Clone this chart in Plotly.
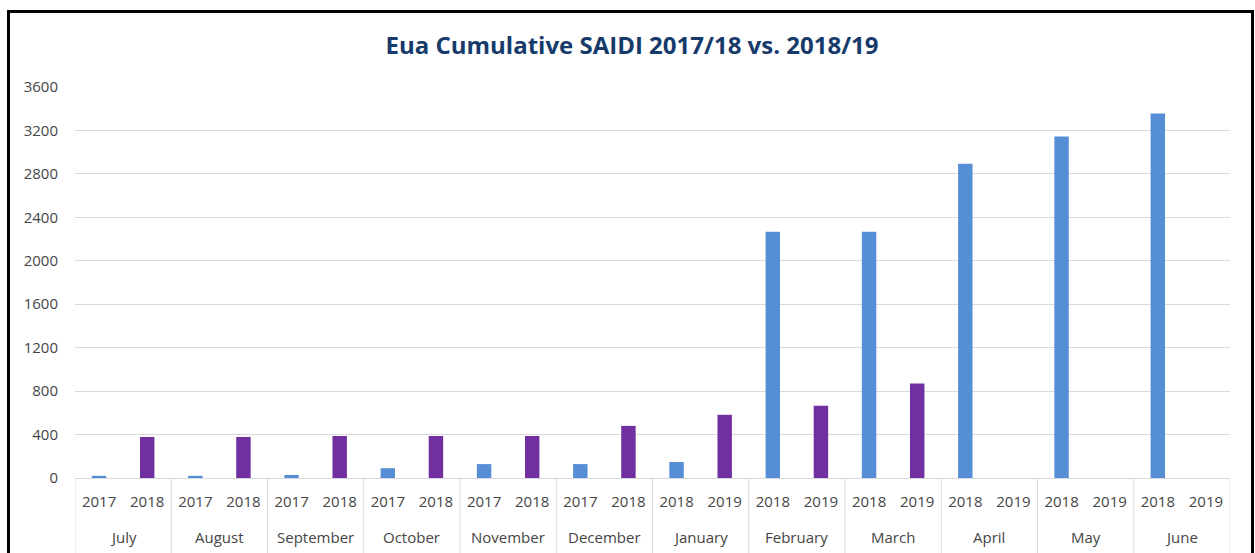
import plotly.graph_objects as go

# Data
months = ['July', 'August', 'September', 'October', 'November', 'December',
          'January', 'February', 'March', 'April', 'May', 'June']
years_1 = ['2017', '2017', '2017', '2017', '2017', '2017',
           '2018', '2018', '2018', '2018', '2018', '2018']
years_2 = ['2018', '2018', '2018', '2018', '2018', '2018',
           '2019', '2019', '2019', '2019', '2019', '2019']
saidi_1 = [20, 20, 28, 90, 128, 128, 147, 2268, 2268, 2893, 3145, 3355]
saidi_2 = [378, 378, 387, 387, 387, 480, 582, 665, 870, None, None, None]

BLUE = '#558ED5'
PURPLE = '#7030A0'
FONT = 'Open Sans'
TXT = '#454545'
GRID = '#D9D9D9'

# one category per (month, year) slot, in chart order
cats_1 = [f'{m} {y}' for m, y in zip(months, years_1)]
cats_2 = [f'{m} {y}' for m, y in zip(months, years_2)]
cat_order, tick_text = [], []
for c1, c2, y1, y2 in zip(cats_1, cats_2, years_1, years_2):
    cat_order += [c1, c2]
    tick_text += [y1, y2]

fig = go.Figure()

fig.add_trace(go.Bar(
    x=cats_1, y=saidi_1, name='2017/18',
    marker=dict(color=BLUE, line=dict(width=0)), width=0.3,
    showlegend=False))
fig.add_trace(go.Bar(
    x=cats_2, y=saidi_2, name='2018/19',
    marker=dict(color=PURPLE, line=dict(width=0)), width=0.3,
    showlegend=False))

PH = 391  # plot height in px
# month labels under the year labels
for i, m in enumerate(months):
    fig.add_annotation(x=2 * i + 0.5, xref='x', y=-(537 - 478) / PH, yref='paper',
                       text=m, showarrow=False, xanchor='center', yanchor='middle',
                       font=dict(family=FONT, size=15, color=TXT))
# group dividers
for i in range(len(months) + 1):
    fig.add_shape(type='line', xref='x', yref='paper',
                  x0=2 * i - 0.5, x1=2 * i - 0.5, y0=0, y1=-(560 - 478) / PH,
                  line=dict(color=GRID, width=1), layer='below')

# outer frame around the chart
fig.add_shape(type='rect', xref='paper', yref='paper',
              x0=(8.5 - 75) / 1155, x1=(1252.5 - 75) / 1155,
              y0=(478 - 570) / PH, y1=(478 - 11.5) / PH,
              line=dict(color='black', width=3), fillcolor='rgba(0,0,0,0)',
              layer='above')

fig.update_layout(
    width=1255, height=553,
    margin=dict(l=75, r=25, t=87, b=75, autoexpand=False),
    paper_bgcolor='white', plot_bgcolor='white',
    barmode='overlay',
    title=dict(text='<b>Eua Cumulative SAIDI 2017/18 vs. 2018/19</b>',
               x=632 / 1255, xanchor='center', y=1 - 46 / 553, yanchor='middle',
               xref='container', yref='container',
               font=dict(family=FONT, size=24, color='#163B6B')),
    font=dict(family=FONT, size=15, color=TXT),
    xaxis=dict(type='category', categoryorder='array', categoryarray=cat_order,
               tickmode='array', tickvals=cat_order, ticktext=tick_text,
               range=[-0.5, len(cat_order) - 0.5],
               showgrid=False, showline=True, automargin=False,
               linecolor=GRID, linewidth=1, ticks='', ticklabelstandoff=10,
               tickfont=dict(family=FONT, size=15, color=TXT)),
    yaxis=dict(range=[0, 3600], dtick=400, showgrid=True, gridcolor=GRID,
               gridwidth=1, zeroline=False, ticks='', showline=False,
               automargin=False, ticklabelstandoff=16,
               tickfont=dict(family=FONT, size=15, color=TXT)),
)

fig.write_html('out.html', config={'displayModeBar': False},
               post_script="document.body.style.margin='0';")
